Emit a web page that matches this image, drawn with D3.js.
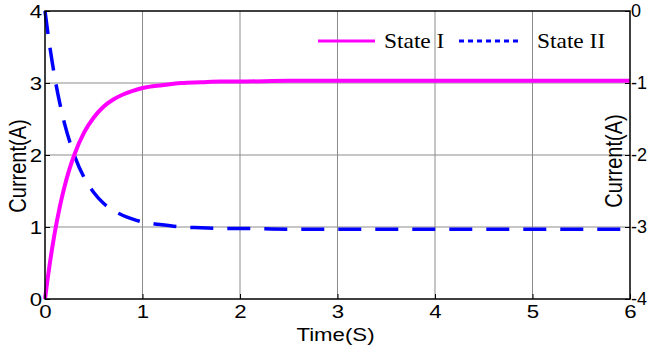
<!DOCTYPE html>
<html lang="en">
<head>
  <meta charset="UTF-8">
  <title>Current vs Time</title>
  <style>
    body { margin: 0; background: #fff; }
    svg { display: block; }
    .tick text { font-family: "Liberation Sans", Arial, sans-serif; font-size: 19px; fill: #000; }
  </style>
</head>
<body>
  <div id="chart"></div>

  <script src="https://d3js.org/d3.v7.min.js"></script>

  <script>
    // values
    var time    = [0, 0.025, 0.05, 0.075, 0.1, 0.15, 0.2, 0.25, 0.3, 0.4, 0.5, 0.6, 0.7, 0.8, 0.9, 1.0, 1.2, 1.4, 1.6, 1.8, 2.0, 2.5, 3, 4, 5, 6];
    var stateI  = [0, 0.26, 0.50, 0.72, 0.92, 1.27, 1.56, 1.80, 2.00, 2.31, 2.52, 2.67, 2.77, 2.84, 2.89, 2.93, 2.97, 3.00, 3.01, 3.02, 3.02, 3.03, 3.03, 3.03, 3.03, 3.03];
    var stateII = [0, -0.26, -0.50, -0.72, -0.92, -1.27, -1.56, -1.80, -2.00, -2.31, -2.52, -2.67, -2.77, -2.84, -2.89, -2.93, -2.97, -3.00, -3.01, -3.02, -3.02, -3.03, -3.03, -3.03, -3.03, -3.03];
    var xTicks = [0, 1, 2, 3, 4, 5, 6];
    var yLeftTicks = [0, 1, 2, 3, 4];
    var yRightTicks = [0, -1, -2, -3, -4];
    var legendNames = ["State I", "State II"];

    var W = 649, H = 352;
    var margin = {top: 11, right: 19, bottom: 53, left: 45},
        width = W - margin.left - margin.right,
        height = H - margin.top - margin.bottom;
    var sx = 1.17; // the original text is a bit wide

    var svg = d3.select("#chart")
      .append("svg")
      .attr("width", W)
      .attr("height", H)
      .append("g")
      .attr("transform", "translate(" + margin.left + "," + margin.top + ")");

    var x = d3.scaleLinear().domain([0, 6]).range([0, width]);
    var yL = d3.scaleLinear().domain([0, 4]).range([height, 0]);
    var yR = d3.scaleLinear().domain([-4, 0]).range([height, 0]);

    // grid
    svg.append("g").selectAll("line")
      .data(xTicks.slice(1, -1))
      .enter().append("line")
      .attr("x1", function(d) { return x(d); })
      .attr("x2", function(d) { return x(d); })
      .attr("y1", 0).attr("y2", height)
      .attr("stroke", "#8c8c8c").attr("stroke-width", 1);
    svg.append("g").selectAll("line")
      .data(yLeftTicks.slice(1, -1))
      .enter().append("line")
      .attr("y1", function(d) { return yL(d); })
      .attr("y2", function(d) { return yL(d); })
      .attr("x1", 0).attr("x2", width)
      .attr("stroke", "#8c8c8c").attr("stroke-width", 1);

    // curves
    var lineI = d3.line()
      .x(function(d, i) { return x(time[i]); })
      .y(function(d) { return yL(d); })
      .curve(d3.curveMonotoneX);
    var lineII = d3.line()
      .x(function(d, i) { return x(time[i]); })
      .y(function(d) { return yR(d); })
      .curve(d3.curveMonotoneX);

    svg.append("path")
      .datum(stateII)
      .attr("d", lineII)
      .attr("fill", "none")
      .attr("stroke", "#0000ff")
      .attr("stroke-width", 3.5)
      .attr("stroke-dasharray", "23,14");

    svg.append("path")
      .datum(stateI)
      .attr("d", lineI)
      .attr("fill", "none")
      .attr("stroke", "#ff00ff")
      .attr("stroke-width", 4);

    // stretch tick labels sideways, keeping their anchor point
    function widen(g) {
      g.select(".domain").remove();
      g.selectAll(".tick text")
        .attr("x", function() { return (+this.getAttribute("x") || 0) / sx; })
        .attr("transform", "scale(" + sx + ",1)");
    }

    // axes
    svg.append("g")
      .attr("transform", "translate(0," + height + ")")
      .call(d3.axisBottom(x).tickValues(xTicks).tickFormat(d3.format("d")).tickSizeInner(-5).tickSizeOuter(0).tickPadding(6))
      .call(widen);
    svg.append("g")
      .call(d3.axisLeft(yL).tickValues(yLeftTicks).tickFormat(d3.format("d")).tickSizeInner(-5).tickSizeOuter(0).tickPadding(3))
      .call(widen);
    svg.append("g")
      .attr("transform", "translate(" + width + ",0)")
      .call(d3.axisRight(yR).tickValues(yRightTicks).tickFormat(function(d) { return d === 0 ? "0" : "-" + Math.abs(d); }).tickSizeInner(-5).tickSizeOuter(0).tickPadding(1))
      .call(function(g) { g.select(".domain").remove(); })
      .selectAll(".tick text").style("font-size", "18px");
    svg.selectAll(".tick line").attr("stroke", "#000").attr("stroke-width", 1);

    // frame
    svg.append("rect")
      .attr("x", 0).attr("y", 0)
      .attr("width", width).attr("height", height)
      .attr("fill", "none")
      .attr("stroke", "#000")
      .attr("stroke-width", 1.5);

    // axis titles
    svg.append("text")
      .attr("text-anchor", "middle")
      .attr("transform", "translate(" + (x(3) - 2) + "," + (height + 42) + ") scale(" + sx + ",1)")
      .style("font-family", "Liberation Sans, Arial, sans-serif")
      .style("font-size", "19px")
      .text("Time(S)");
    svg.append("text")
      .attr("text-anchor", "middle")
      .attr("transform", "translate(" + (-19) + "," + (height / 2 + 11) + ") scale(" + sx + ",1) rotate(-90)")
      .style("font-family", "Liberation Sans, Arial, sans-serif")
      .style("font-size", "20px")
      .text("Current(A)");
    svg.append("text")
      .attr("text-anchor", "middle")
      .attr("transform", "translate(" + (width - 8) + "," + (height / 2 + 6) + ") scale(" + sx + ",1) rotate(-90)")
      .style("font-family", "Liberation Sans, Arial, sans-serif")
      .style("font-size", "20px")
      .text("Current(A)");

    // legend
    var legend = svg.append("g").attr("transform", "translate(273,30)");
    legend.append("line")
      .attr("x1", 0).attr("x2", 57).attr("y1", 0).attr("y2", 0)
      .attr("stroke", "#ff00ff").attr("stroke-width", 3);
    legend.append("text")
      .attr("transform", "translate(66,7) scale(" + sx + ",1)")
      .style("font-family", "Liberation Serif, Times New Roman, serif")
      .style("font-size", "20px")
      .text(legendNames[0]);
    legend.append("line")
      .attr("x1", 141).attr("x2", 202).attr("y1", 0).attr("y2", 0)
      .attr("stroke", "#0000ff").attr("stroke-width", 3)
      .attr("stroke-dasharray", "5,4");
    legend.append("text")
      .attr("transform", "translate(219,7) scale(" + sx + ",1)")
      .style("font-family", "Liberation Serif, Times New Roman, serif")
      .style("font-size", "20px")
      .text(legendNames[1]);
  </script>
</body>
</html>
